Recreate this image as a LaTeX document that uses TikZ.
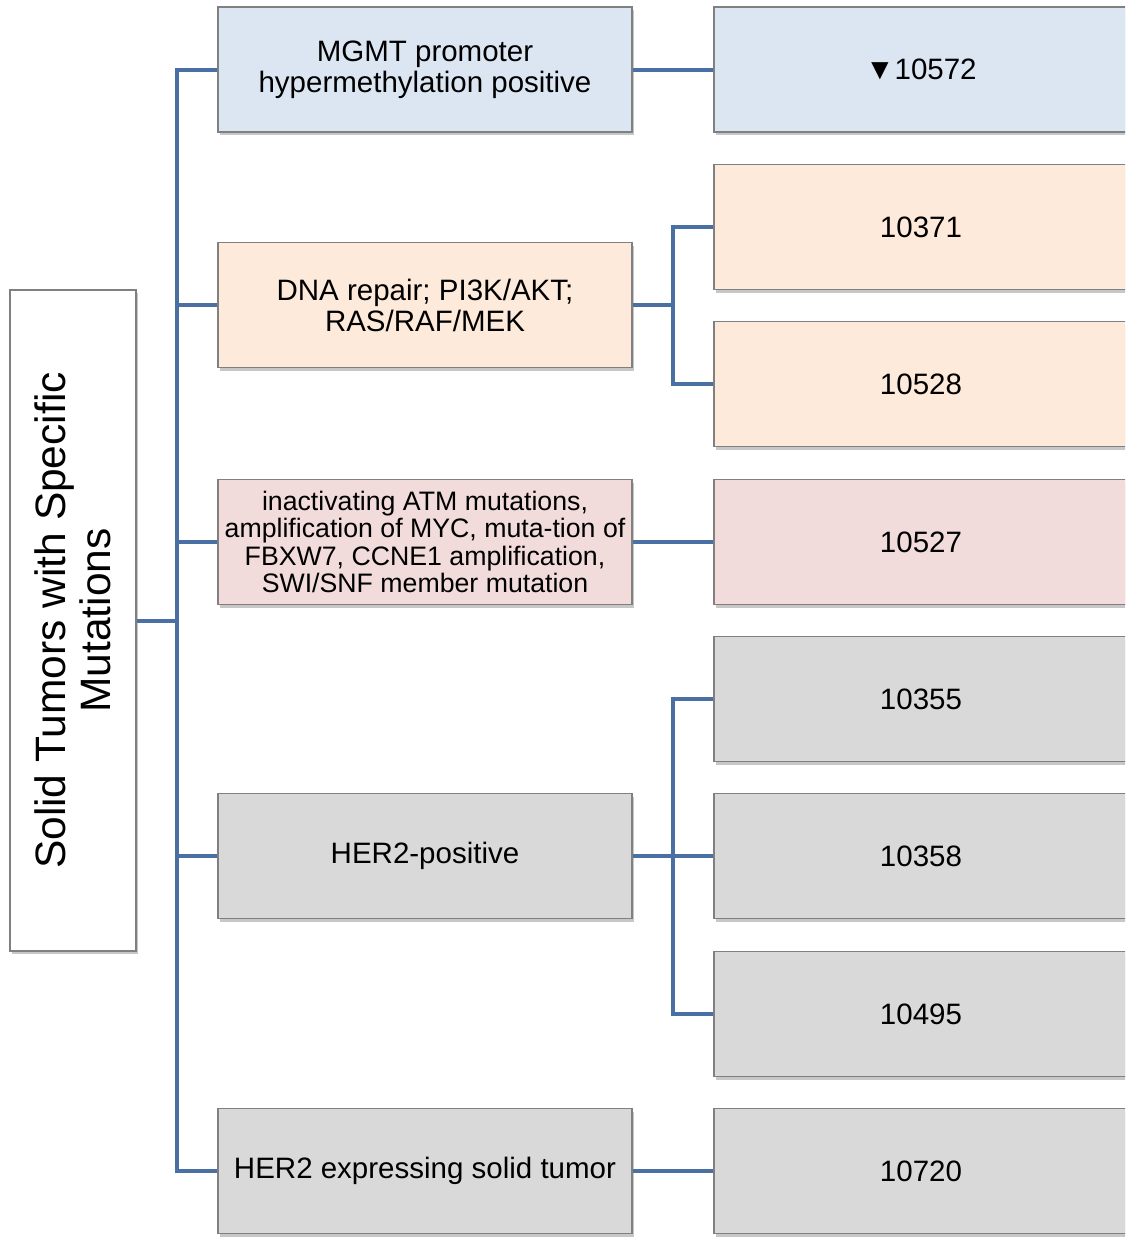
\documentclass[tikz,border=0pt]{standalone}
\usepackage{fontspec}
\setmainfont{Liberation Sans}
\usetikzlibrary{shadows}
\definecolor{lineblue}{HTML}{4A6FA3}
\definecolor{bordergray}{HTML}{808080}
\definecolor{fblue}{HTML}{DCE6F2}
\definecolor{fpeach}{HTML}{FDEADA}
\definecolor{fpink}{HTML}{F2DCDB}
\definecolor{fgray}{HTML}{D9D9D9}
\tikzset{
  box/.style={draw=bordergray, line width=1.3pt, align=center, inner sep=0pt,
    drop shadow={shadow xshift=2pt, shadow yshift=-3pt, fill=black, opacity=0.22},
    font=\fontsize{29.5}{31}\selectfont},
  midbox/.style={box, minimum width=414pt, minimum height=125pt},
  rightbox/.style={box, minimum width=414pt, minimum height=125pt},
  conn/.style={draw=lineblue, line width=4pt},
}
\begin{document}
\begin{tikzpicture}[x=1pt,y=-1pt]
\clip (0,0) rectangle (1125,1237);
\fill[white] (0,0) rectangle (1125,1237);
% root
\node[box, fill=white, minimum width=126pt, minimum height=661pt] (root) at (73,620.5) {};
\node[rotate=90, align=center, font=\fontsize{42.5}{45}\selectfont] (roottext) at (73,620.5) {Solid Tumors with Specific\\Mutations};
% middle
\node[midbox, fill=fblue] (m1) at (425,69.5) {MGMT promoter\\hypermethylation positive};
\node[midbox, fill=fpeach] (m2) at (425,305) {DNA repair; PI3K/AKT;\\RAS/RAF/MEK};
\node[midbox, fill=fpink, font=\fontsize{26.7}{27.3}\selectfont] (m3) at (425,542) {inactivating ATM mutations,\\amplification of MYC, muta-tion of\\FBXW7, CCNE1 amplification,\\SWI/SNF member mutation};
\node[midbox, fill=fgray] (m4) at (425,856) {HER2-positive};
\node[midbox, fill=fgray] (m5) at (425,1171) {HER2 expressing solid tumor};
% right
\node[rightbox, fill=fblue] (r1) at (921,69.5) {▼10572};
\node[rightbox, fill=fpeach] (r2) at (921,227) {10371};
\node[rightbox, fill=fpeach] (r3) at (921,384) {10528};
\node[rightbox, fill=fpink] (r4) at (921,542) {10527};
\node[rightbox, fill=fgray] (r5) at (921,699) {10355};
\node[rightbox, fill=fgray] (r6) at (921,856) {10358};
\node[rightbox, fill=fgray] (r7) at (921,1014) {10495};
\node[rightbox, fill=fgray] (r8) at (921,1171) {10720};
% bus coordinates
\coordinate (bus) at (177,620.5);
\coordinate (b2) at (673,305);
\coordinate (b4) at (673,856);
% connectors
\draw[conn] (root.east) -- (bus);
\foreach \m in {m1,m2,m3,m4,m5} { \draw[conn] (\m.west) -| (bus); }
\draw[conn] (m1.east) -- (r1.west);
\draw[conn] (m2.east) -- (b2);
\draw[conn] (r2.west) -| (b2);
\draw[conn] (r3.west) -| (b2);
\draw[conn] (m3.east) -- (r4.west);
\draw[conn] (m4.east) -- (b4);
\draw[conn] (r5.west) -| (b4);
\draw[conn] (r6.west) -- (b4);
\draw[conn] (r7.west) -| (b4);
\draw[conn] (m5.east) -- (r8.west);
\end{tikzpicture}
\end{document}
